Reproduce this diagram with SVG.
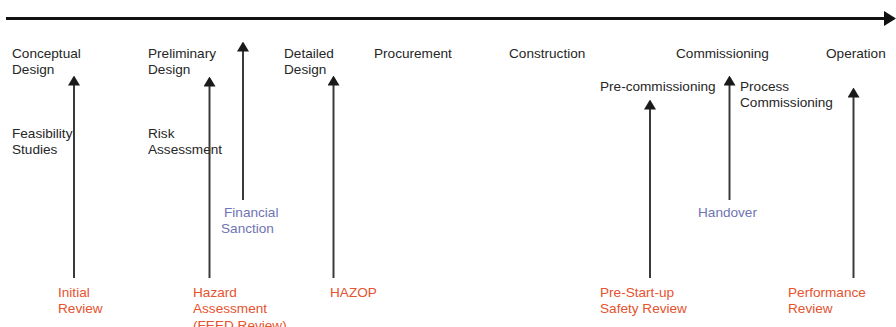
<svg xmlns="http://www.w3.org/2000/svg" width="896" height="327" viewBox="0 0 896 327">
  <defs>
    <!-- arrowhead drawn along +x so orient="auto" points it up the line -->
    <marker id="head" viewBox="0 0 10 12" refX="0.5" refY="6" markerWidth="10" markerHeight="12" markerUnits="userSpaceOnUse" orient="auto">
      <path d="M0,0 L10,6 L0,12 Z" fill="#1a1a1a"/>
    </marker>
  </defs>
  <style>
    text { font-family: "Liberation Sans", Arial, sans-serif; font-size: 13.6px; }
    .phase { fill: #262626; }
    .review { fill: #e5532f; }
    .gate { fill: #6f74b4; }
    .link { stroke: #3a3a3a; stroke-width: 2; fill: none; }
  </style>
  <rect width="896" height="327" fill="#ffffff"/>

  <!-- timeline axis -->
  <g id="timeline">
    <line x1="6" y1="18.5" x2="885" y2="18.5" stroke="#111" stroke-width="3"/>
    <polygon points="884,11 896,18.5 884,26" fill="#111"/>
  </g>

  <!-- project phases -->
  <g id="conceptual-design"><text class="phase" x="12" y="58">Conceptual</text><text class="phase" x="12" y="74">Design</text></g>
  <g id="feasibility-studies"><text class="phase" x="12" y="138">Feasibility</text><text class="phase" x="12" y="154">Studies</text></g>
  <g id="preliminary-design"><text class="phase" x="148" y="58">Preliminary</text><text class="phase" x="148" y="74">Design</text></g>
  <g id="risk-assessment"><text class="phase" x="148" y="138">Risk</text><text class="phase" x="148" y="154">Assessment</text></g>
  <g id="detailed-design"><text class="phase" x="284" y="58">Detailed</text><text class="phase" x="284" y="74">Design</text></g>
  <g id="procurement"><text class="phase" x="374" y="58">Procurement</text></g>
  <g id="construction"><text class="phase" x="509" y="58">Construction</text></g>
  <g id="commissioning"><text class="phase" x="676" y="58">Commissioning</text></g>
  <g id="operation"><text class="phase" x="826" y="58">Operation</text></g>
  <g id="pre-commissioning"><text class="phase" x="600" y="91">Pre-commissioning</text></g>
  <g id="process-commissioning"><text class="phase" x="740" y="91">Process</text><text class="phase" x="740" y="107">Commissioning</text></g>

  <!-- reviews and gates -->
  <g id="initial-review"><text class="review" x="58" y="297">Initial</text><text class="review" x="58" y="313">Review</text></g>
  <g id="hazard-assessment"><text class="review" x="193" y="297">Hazard</text><text class="review" x="193" y="313">Assessment</text><text class="review" x="193" y="330">(FEED Review)</text></g>
  <g id="financial-sanction"><text class="gate" x="224" y="217">Financial</text><text class="gate" x="221" y="233">Sanction</text></g>
  <g id="hazop"><text class="review" x="330" y="297">HAZOP</text></g>
  <g id="pre-startup-review"><text class="review" x="600" y="297">Pre-Start-up</text><text class="review" x="600" y="313">Safety Review</text></g>
  <g id="handover"><text class="gate" x="698" y="217">Handover</text></g>
  <g id="performance-review"><text class="review" x="788" y="297">Performance</text><text class="review" x="788" y="313">Review</text></g>

  <!-- connectors: each line ends at the base of its arrowhead -->
  <g id="connectors">
    <line class="link" x1="74" y1="278" x2="74" y2="85" marker-end="url(#head)"/>
    <line class="link" x1="209.5" y1="278" x2="209.5" y2="86" marker-end="url(#head)"/>
    <line class="link" x1="243" y1="200" x2="243" y2="51" marker-end="url(#head)"/>
    <line class="link" x1="333.5" y1="278" x2="333.5" y2="85" marker-end="url(#head)"/>
    <line class="link" x1="650" y1="278" x2="650" y2="109" marker-end="url(#head)"/>
    <line class="link" x1="729.5" y1="200" x2="729.5" y2="85" marker-end="url(#head)"/>
    <line class="link" x1="853.5" y1="278" x2="853.5" y2="97" marker-end="url(#head)"/>
  </g>
</svg>
